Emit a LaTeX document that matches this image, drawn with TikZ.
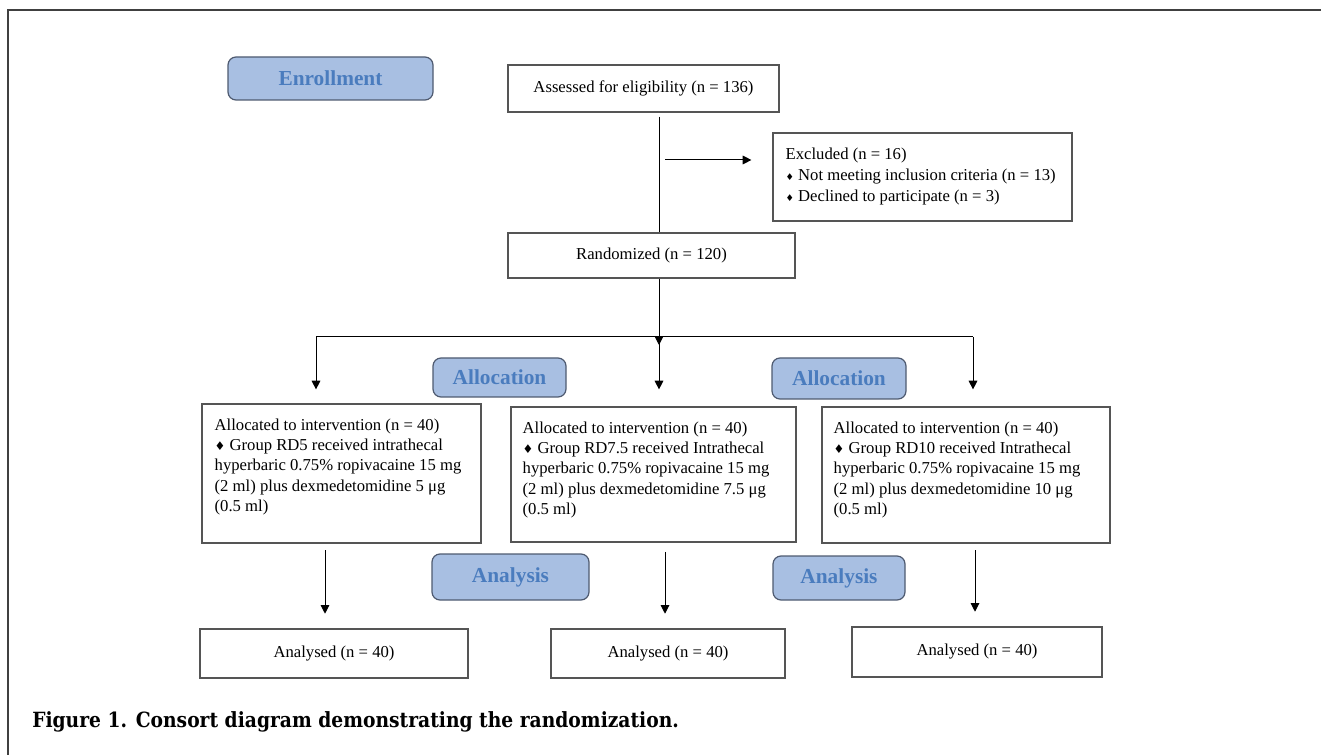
\documentclass[tikz,border=0pt]{standalone}
\usepackage{fontspec}
\usepackage{graphicx}
\setmainfont{Liberation Serif}
\newfontfamily\capfont{DejaVu Serif}
\newfontfamily\symfont{DejaVu Sans}
\usetikzlibrary{arrows.meta}
\definecolor{lblfill}{RGB}{168,191,226}
\definecolor{lbltext}{RGB}{74,124,190}
\definecolor{lbldraw}{RGB}{78,90,112}
\definecolor{boxdraw}{RGB}{85,85,85}
\newcommand{\bigdia}{{\symfont\fontsize{9}{9}\selectfont ♦}}
\newcommand{\smalldia}{{\symfont\fontsize{7}{7}\selectfont ♦}}
\begin{document}
\begin{tikzpicture}[x=0.75pt,y=-0.75pt,
  box/.style={draw=boxdraw, line width=0.9pt, inner sep=0pt, fill=white, font=\fontsize{12.5}{15}\selectfont},
  lbl/.style={draw=lbldraw, line width=0.9pt, fill=lblfill, rounded corners=6pt, inner sep=0pt,
              font=\fontsize{16}{18}\selectfont\bfseries, text=lbltext},
  txt/.style={inner sep=0pt, align=left, anchor=north west},
  arr/.style={-{Triangle[length=6.5pt,width=6.5pt]}, line width=0.75pt},
  conn/.style={line width=0.75pt}]
\useasboundingbox (0,0) rectangle (1321,755);
% frame
\draw[line width=1.2pt, draw=black!75] (1321,10) -- (8,10) -- (8,755);

% labels
\node[lbl, minimum width=153.75pt, minimum height=32.25pt] (enr) at (330.5,78.5) {Enrollment};
\node[lbl, minimum width=99.75pt, minimum height=29.25pt] (al1) at (499.5,377.5) {Allocation};
\node[lbl, minimum width=100.5pt, minimum height=30.75pt] (al2) at (839,378.5) {Allocation};
\node[lbl, minimum width=117.75pt, minimum height=34.5pt] (an1) at (510.5,577) {Analysis};
\node[lbl, minimum width=99pt, minimum height=33pt] (an2) at (839,578) {Analysis};

% main boxes
\node[box, minimum width=203.25pt, minimum height=35.25pt] (assess) at (643.5,88.5) {Assessed for eligibility (n = 136)};
\node[box, minimum width=224.25pt, minimum height=66pt] (excl) at (922.5,177) {};
\node[txt, font=\fontsize{12.5}{15.75}\selectfont] (exclt) at ([shift={(13,15)}]excl.north west)
  {Excluded (n = 16)\\ \smalldia\ Not meeting inclusion criteria (n = 13)\\ \smalldia\ Declined to participate (n = 3)};
\node[box, minimum width=215.25pt, minimum height=33.75pt] (rand) at (651.5,255.5) {Randomized (n = 120)};

\node[box, minimum width=209.25pt, minimum height=104.25pt] (g1) at (341.5,473.5) {};
\node[txt, font=\fontsize{12.5}{15.2}\selectfont] (g1t) at ([shift={(13,15)}]g1.north west)
  {Allocated to intervention (n = 40)\\ \bigdia\ Group RD5 received intrathecal\\ hyperbaric 0.75\% ropivacaine 15 mg\\ (2 ml) plus dexmedetomidine 5 μg\\ (0.5 ml)};
\node[box, minimum width=213.75pt, minimum height=101.25pt] (g2) at (653.5,474.5) {};
\node[txt, font=\fontsize{12.5}{15.2}\selectfont] (g2t) at ([shift={(12,15)}]g2.north west)
  {Allocated to intervention (n = 40)\\ \bigdia\ Group RD7.5 received Intrathecal\\ hyperbaric 0.75\% ropivacaine 15 mg\\ (2 ml) plus dexmedetomidine 7.5 μg\\ (0.5 ml)};
\node[box, minimum width=216pt, minimum height=102pt] (g3) at (966,475) {};
\node[txt, font=\fontsize{12.5}{15.2}\selectfont] (g3t) at ([shift={(12,15)}]g3.north west)
  {Allocated to intervention (n = 40)\\ \bigdia\ Group RD10 received Intrathecal\\ hyperbaric 0.75\% ropivacaine 15 mg\\ (2 ml) plus dexmedetomidine 10 μg\\ (0.5 ml)};

\node[box, minimum width=201pt, minimum height=36.75pt] (a1) at (334,653.5) {Analysed (n = 40)};
\node[box, minimum width=175.5pt, minimum height=36.75pt] (a2) at (668,653.5) {Analysed (n = 40)};
\node[box, minimum width=187.5pt, minimum height=37.5pt] (a3) at (977,652) {Analysed (n = 40)};

% caption
\node[anchor=west, inner sep=0pt] (cap) at (32,722)
  {\scalebox{1}[1.12]{\resizebox{485pt}{!}{\capfont\bfseries Figure 1. Consort diagram demonstrating the randomization.}}};

% connectors
\coordinate (vm) at (659,0);
\coordinate (exA) at (665,160);
\coordinate (bm) at (659,337);
\coordinate (bmTip) at (659,345);
\coordinate (bL) at (316,337);
\coordinate (bR) at (973,337);
\coordinate (d1) at (325,0);
\coordinate (d2) at (665,0);
\coordinate (d3) at (975,0);

\draw[conn, shorten <=3pt] (assess.south -| vm) -- (rand.north -| vm);
\draw[arr, shorten >=15.75pt] (exA) -- (exA -| excl.west);
\draw[arr] (rand.south -| vm) -- (bmTip);
\draw[conn] (bL) -- (bR);
\draw[arr, shorten >=12.75pt] (bm) -- (g2.north -| bm);
\draw[arr, shorten >=10.5pt] (bL) -- (g1.north -| bL);
\draw[arr, shorten >=12.75pt] (bR) -- (g3.north -| bR);

\draw[arr, shorten <=5pt, shorten >=11pt] (g1.south -| d1) -- (a1.north -| d1);
\draw[arr, shorten <=7pt, shorten >=11pt] (g2.south -| d2) -- (a2.north -| d2);
\draw[arr, shorten <=5pt, shorten >=11pt] (g3.south -| d3) -- (a3.north -| d3);
\end{tikzpicture}
\end{document}
